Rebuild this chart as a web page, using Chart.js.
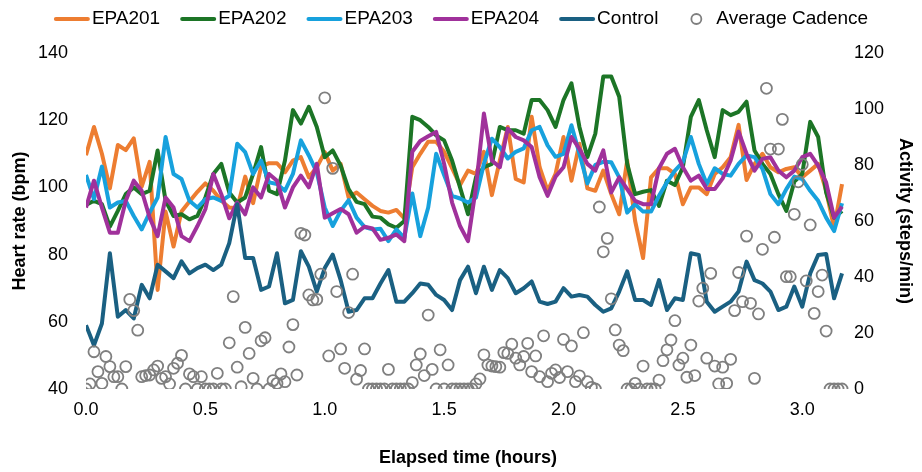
<!DOCTYPE html>
<html>
<head>
<meta charset="utf-8">
<script src="https://cdn.jsdelivr.net/npm/chart.js@4.4.1/dist/chart.umd.min.js"></script>
<style>
  html, body { margin: 0; padding: 0; background: #ffffff; }
  #wrap { width: 922px; height: 472px; position: relative; }
</style>
</head>
<body>
<div id="wrap"><canvas id="c" width="922" height="472"></canvas></div>
<script>
// ---- sampling intervals (minutes) ----
const LINE_STEP_MIN = 2;
const CADENCE_STEP_MIN = 1;

// ---- series names / legend ----
const seriesNames = ['EPA201', 'EPA202', 'EPA203', 'EPA204', 'Control'];
const cadenceName = 'Average Cadence';

// ---- heart rate (bpm), one value every 2 minutes ----
const epa201 = [109.6,118,110,99.7,112.6,111.1,114.6,100.2,107.6,69.5,
  92.8,82.4,92.8,95.8,98.7,101.2,99,96,94,93.8,
  103.2,95.3,106.2,107.2,107.2,104.5,108,109,103,106,
  110.5,105,107,97,98.5,96.5,94.5,93,92.5,93.3,
  90.8,106,110,113.6,113.6,110.6,105.7,100.7,105,104,
  110.6,97.7,108,118,102.5,101.5,121,106,99,104,
  115,102,113,99.7,99,105,98,92,108,90,
  79,103,105.7,105.7,104,95,100,100,98,104,
  106,109,118.6,102.2,107,110,106,104.5,105.5,106,
  103,105,107,99,88,101];

const epa202 = [94.8,96,95,88.3,93,98,100,98,99,111,
  96,91.5,92,90.5,91.5,97,104,107,98.5,95.5,
  97,104,112,99,98,108,123,119,124,118,
  109,111,106.5,99.5,95.7,95,91.3,91,89,88,
  90,121,120,118,115.5,114,108,100,92,103,
  106,107,118,117,117,116,126,126,123,118,
  126,131,118,109,116,133,133,127,107,98,
  98.7,99.2,94.5,102,100.7,106,121,126,117,109,
  123,121.5,122.5,125.5,111,107,104,98,93,101.7,
  104,119.5,115,98.5,91,93];

const epa203 = [103.7,96.5,106.2,94,95.5,96,91.5,87.5,92.5,97,
  115,104,102.5,96,94,96.5,97,96,97.5,113,
  110.5,104,108,101.5,101,99,104,114,109.5,104.5,
  94,88.5,93,96.2,91,88.2,87.5,87.7,84,87.5,
  85,98.2,85.5,94,110,103.7,97.5,96.7,95.5,97,
  107,114.5,112,108.6,110.6,111.6,117,118,112.5,109.1,
  110,118.5,110,101.2,106.7,107.6,107.5,103,92.5,95,
  92.8,92.8,97.5,101.5,105,107.5,115,107,101,105.7,
  104,103.5,107,109.5,109,105.5,98,95,99.5,103.2,
  102.5,99,96,91,87,95.3];

const epa204 = [94,102,94,86.5,86.5,96,102,99,91,85.5,
  97,94,85.5,84,88.5,93.5,104,98,90.8,95.5,
  92,100,97,104,102,94,100,103.5,100,107,
  91,92.3,93.6,92,86.5,88.3,87.8,84.4,85,86,
  84,110.6,113.8,115.2,116.5,107,95.5,88.5,84,100,
  122,108,106,117.5,115,114,112,103,97.5,103.2,
  106,115,111.5,107,105,111,98.5,103,99.5,96,
  95,95,105.7,110,111.5,106,102,103.5,99.5,99.5,
  102.7,108,116.6,110,105,108.5,109,105,103,105,
  109,110,106.5,101.5,91,94.3];

const control = [59,53,59.5,80.4,61.5,63.5,61,71,67,77,
  75,73,78,74.4,76,77,75.4,77,83.4,95,
  79,79,69.5,70.5,80.4,65.5,66.5,81,76.4,69,
  76,80,72.4,63,63.5,67,67,71.4,75.4,66,
  66,68.5,71.4,71,68,66.5,63.5,72.4,76.4,68.5,
  76.4,69.5,75.4,73,68.5,70,72,66,65.3,66,
  70,67.5,68,67.5,65,63,64,69,75,66.5,
  66.5,65,72.4,63.5,67,66.5,80.4,79.9,66,63,
  64.5,66,69,77.9,72.4,71.4,69,63.5,64.5,70.5,
  64.5,74.4,79.9,80.2,67,74.4];

// ---- activity (steps/min), one value every minute ----
const cadence = [0,1.8,13.3,6.2,2,11.6,8,4.4,4.4,0,
  8,32,28,21,4.4,4.8,5,6.8,8.2,3.8,
  4.4,1.8,7.4,9.2,12,0,5.4,4.4,0,4.4,
  0,0,0,5.6,0,0,16.5,33,7.8,0.8,
  22,12.7,3.8,0,17.2,18.3,0,3,
  2,5.4,2.6,15,23,5,55.6,55,33.6,31.8,
  32,41,104,11.8,78.8,34.8,14.3,7.4,27.3,41,
  3.5,6.6,14.3,
  0,0,0,0,0,7,0,0,0,0,0,
  2.3,8.6,12.5,4.8,26.4,7,0,14,0,8.6,
  0,0,0,0,0,0,
  1.8,3.6,12.2,8.6,8.2,8,7.8,13,12.7,16,
  11,8.6,11.6,16.3,6.2,11.8,4.4,19,2.6,5.6,
  6.8,4.1,17.7,6.2,15.4,2.6,4.7,20.1,2.6,0.6,
  0,65,49,53.8,32.2,21.1,15.7,13.7,0,0,
  2,0,8.2,0,0,0,3.2,10.1,14,17.5,
  24.4,8.6,11,4.2,15.7,4.8,31.4,36,11,41.3,
  8.2,1.8,7.8,2,10.6,28,41.6,31.2,54.6,30.6,
  3.8,26.8,49.9,107.4,85.7,54.2,85.7,96.3,40.1,40.1,
  62.4,74,80.2,38.6,58.6,27,34.8,40.7,20.7,0,
  0,0,0];

// ---- axes ----
const xTickValues = [0, 0.5, 1, 1.5, 2, 2.5, 3];
const xMin = 0, xMax = 3.2;
const hrTicks = [40, 60, 80, 100, 120, 140];
const actTicks = [0, 20, 40, 60, 80, 100, 120];

const xTitle = 'Elapsed time (hours)';
const yTitle = 'Heart rate (bpm)';
const y1Title = 'Activity (steps/min)';

const colors = ['#ED7D31', '#1C7526', '#17A1DD', '#A0319B', '#1A6082'];
const cadenceColor = '#7F7F7F';

// ---- build points ----
function toPoints(arr, stepMin) {
  return arr.map((v, i) => ({ x: i * stepMin / 60, y: v }));
}
const lineSeries = [epa201, epa202, epa203, epa204, control];

const FONT = "'Liberation Sans', Arial, Helvetica, sans-serif";
Chart.defaults.font.family = FONT;
Chart.defaults.color = '#000000';

const datasets = lineSeries.map((arr, i) => ({
  label: seriesNames[i],
  data: toPoints(arr, LINE_STEP_MIN),
  borderColor: colors[i],
  backgroundColor: colors[i],
  borderWidth: 4,
  pointRadius: 0,
  tension: 0,
  fill: false,
  borderJoinStyle: 'round',
  borderCapStyle: 'butt',
  yAxisID: 'y',
  order: 5 - i + 1
}));
datasets.push({
  label: cadenceName,
  data: toPoints(cadence, CADENCE_STEP_MIN),
  showLine: false,
  borderColor: cadenceColor,
  backgroundColor: 'rgba(0,0,0,0)',
  pointRadius: 5.5,
  pointBorderWidth: 1.8,
  pointBorderColor: cadenceColor,
  pointBackgroundColor: 'rgba(0,0,0,0)',
  yAxisID: 'y1',
  order: 0
});

// ---- custom legend drawn on canvas ----
const legendPlugin = {
  id: 'topLegend',
  afterDraw(chart) {
    const ctx = chart.ctx;
    const fontSize = 19;
    const swatch = 36, gapText = 2, gapItem = 20, yMid = 19;
    ctx.save();
    ctx.font = fontSize + 'px ' + FONT;
    const items = chart.data.datasets.map(ds => ({
      text: ds.label,
      color: ds.borderColor,
      isPoint: ds.showLine === false,
      w: ctx.measureText(ds.label).width
    }));
    let total = 0;
    items.forEach((it, i) => { total += swatch + gapText + it.w + (i ? gapItem : 0); });
    let x = (chart.width - total) / 2;
    items.forEach(it => {
      if (it.isPoint) {
        ctx.beginPath();
        ctx.lineWidth = 1.8;
        ctx.strokeStyle = it.color;
        ctx.arc(x + swatch / 2, yMid, 5, 0, Math.PI * 2);
        ctx.stroke();
      } else {
        ctx.beginPath();
        ctx.lineWidth = 4;
        ctx.lineCap = 'round';
        ctx.strokeStyle = it.color;
        ctx.moveTo(x + 2, yMid);
        ctx.lineTo(x + swatch - 2, yMid);
        ctx.stroke();
      }
      ctx.fillStyle = '#000000';
      ctx.textBaseline = 'middle';
      ctx.textAlign = 'left';
      ctx.fillText(it.text, x + swatch + gapText, yMid);
      x += swatch + gapText + it.w + gapItem;
    });
    ctx.restore();
  }
};

new Chart(document.getElementById('c'), {
  type: 'line',
  data: { datasets },
  options: {
    responsive: false,
    devicePixelRatio: 1,
    animation: false,
    events: [],
    layout: { padding: { top: 53, bottom: 3, left: 0, right: 0 } },
    plugins: { legend: { display: false }, tooltip: { enabled: false } },
    scales: {
      x: {
        type: 'linear',
        position: 'bottom',
        min: xMin,
        max: xMax,
        grid: { display: false, drawTicks: false },
        border: { display: false },
        afterBuildTicks: (s) => { s.ticks = xTickValues.map(v => ({ value: v })); },
        afterFit: (s) => { s.height = 80; },
        ticks: {
          font: { size: 18 },
          color: '#000000',
          padding: 10,
          maxRotation: 0,
          autoSkip: false,
          callback: (v) => Number(v).toFixed(1)
        },
        title: {
          display: true, text: xTitle, color: '#000000',
          font: { size: 18, weight: 'bold' },
          padding: { top: 0, bottom: 0 }
        }
      },
      y: {
        type: 'linear',
        position: 'left',
        min: hrTicks[0],
        max: hrTicks[hrTicks.length - 1],
        grid: { display: false, drawTicks: false },
        border: { display: false },
        afterBuildTicks: (s) => { s.ticks = hrTicks.map(v => ({ value: v })); },
        afterFit: (s) => { s.width = 86; },
        ticks: { font: { size: 18 }, color: '#000000', padding: 18 },
        title: {
          display: true, text: yTitle, color: '#000000',
          font: { size: 18, weight: 'bold' },
          padding: { top: 9, bottom: 0 }
        }
      },
      y1: {
        type: 'linear',
        position: 'right',
        min: actTicks[0],
        max: actTicks[actTicks.length - 1],
        grid: { display: false, drawTicks: false },
        border: { display: false },
        afterBuildTicks: (s) => { s.ticks = actTicks.map(v => ({ value: v })); },
        afterFit: (s) => { s.width = 72; },
        ticks: { font: { size: 18 }, color: '#000000', padding: 4 },
        title: {
          display: true, text: y1Title, color: '#000000',
          font: { size: 18, weight: 'bold' },
          padding: { top: 6, bottom: 0 }
        }
      }
    }
  },
  plugins: [legendPlugin]
});
</script>
</body>
</html>
